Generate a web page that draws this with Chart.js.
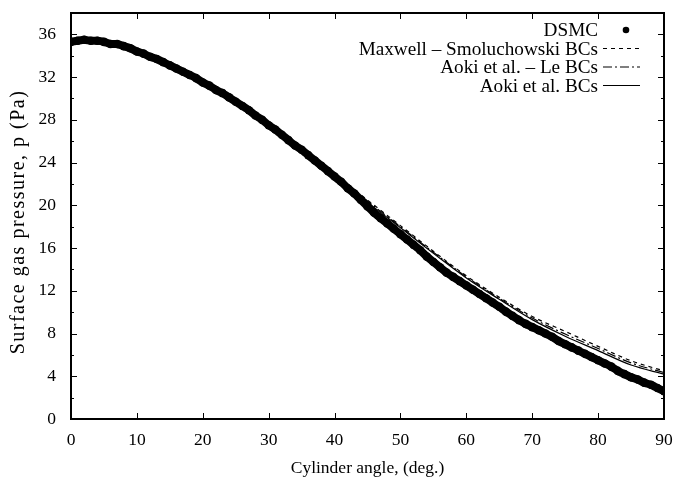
<!DOCTYPE html>
<html>
<head>
<meta charset="utf-8">
<script src="https://cdn.jsdelivr.net/npm/chart.js@4"></script>
<style>
  html, body { margin: 0; padding: 0; background: #fff; }
  #wrap { width: 676px; height: 479px; }
</style>
</head>
<body>
<div id="wrap"><canvas id="chart" width="676" height="479"></canvas></div>
<script>
// DSMC surface pressure, one value per degree (0..90)
const dsmcAngles = Array.from({ length: 91 }, (_, i) => i);
const dsmcValues = [
  35.3, 35.4, 35.5, 35.4, 35.4, 35.3, 35.1, 35.1, 34.9, 34.7,
  34.4, 34.2, 33.9, 33.7, 33.4, 33.1, 32.8, 32.5, 32.2, 31.9,
  31.5, 31.2, 30.8, 30.5, 30.1, 29.7, 29.3, 28.9, 28.4, 28.0,
  27.5, 27.1, 26.6, 26.1, 25.6, 25.2, 24.7, 24.2, 23.7, 23.2,
  22.7, 22.2, 21.6, 21.1, 20.5, 19.9, 19.3, 18.8, 18.3, 17.8,
  17.3, 16.8, 16.3, 15.8, 15.2, 14.7, 14.2, 13.7, 13.3, 12.9,
  12.5, 12.1, 11.7, 11.3, 10.9, 10.5, 10.05, 9.65, 9.25, 8.9,
  8.6, 8.3, 8.0, 7.7, 7.3, 7.0, 6.7, 6.4, 6.1, 5.8,
  5.5, 5.2, 4.9, 4.5, 4.2, 3.9, 3.7, 3.4, 3.2, 2.9,
  2.6
];

// model curves, every 5 degrees
const modelAngles = [0, 5, 10, 15, 20, 25, 30, 35, 40, 45, 50, 55, 60, 65, 70, 75, 80, 85, 90];
const maxwellValues = [35.4, 35.2, 34.6, 33.3, 31.7, 29.9, 27.7, 25.4, 23.0, 20.5, 18.1, 15.7, 13.4, 11.4, 9.6, 8.2, 6.8, 5.45, 4.5];
const aokiLeValues  = [35.4, 35.2, 34.6, 33.3, 31.7, 29.9, 27.7, 25.4, 22.95, 20.4, 18.0, 15.6, 13.3, 11.3, 9.45, 7.95, 6.6, 5.25, 4.35];
const aokiValues    = [35.4, 35.2, 34.6, 33.3, 31.7, 29.9, 27.7, 25.4, 22.9, 20.3, 17.9, 15.5, 13.2, 11.2, 9.3, 7.75, 6.4, 5.05, 4.2];

const xTicks = [0, 10, 20, 30, 40, 50, 60, 70, 80, 90];
const yTicks = [0, 4, 8, 12, 16, 20, 24, 28, 32, 36];

const seriesNames = ['DSMC', 'Maxwell \u2013 Smoluchowski BCs', 'Aoki et al. \u2013 Le BCs', 'Aoki et al. BCs'];
const yTitle = 'Surface gas pressure, p (Pa)';

const FONT = '"Liberation Serif", "DejaVu Serif", serif';

function pairs(xs, ys) {
  return xs.map((x, i) => ({ x: x, y: ys[i] }));
}

// gnuplot-like frame with inward ticks, y title and the legend at top right
const framePlugin = {
  id: 'frame',
  afterDatasetsDraw(chart) {
    const ctx = chart.ctx;
    const a = chart.chartArea;
    const xs = chart.scales.x;
    const ys = chart.scales.y;
    ctx.save();
    ctx.strokeStyle = '#000';
    ctx.lineWidth = 1;
    ctx.beginPath();
    xTicks.forEach(v => {
      const px = Math.round(xs.getPixelForValue(v)) + 0.5;
      ctx.moveTo(px, a.bottom); ctx.lineTo(px, a.bottom - 6);
      ctx.moveTo(px, a.top); ctx.lineTo(px, a.top + 6);
    });
    for (let v = 0; v <= 38; v += 2) {
      const len = v % 4 === 0 ? 6 : 3;
      const py = Math.round(ys.getPixelForValue(v)) + 0.5;
      ctx.moveTo(a.left, py); ctx.lineTo(a.left + len, py);
      ctx.moveTo(a.right, py); ctx.lineTo(a.right - len, py);
    }
    ctx.stroke();
    ctx.lineWidth = 2;
    ctx.strokeRect(a.left, a.top, a.right - a.left, a.bottom - a.top);

    // y axis title (drawn here so it can be spaced like the original)
    ctx.save();
    ctx.translate(19, 222);
    ctx.rotate(-Math.PI / 2);
    ctx.font = '20px ' + FONT;
    ctx.letterSpacing = '1.5px';
    ctx.fillStyle = '#000';
    ctx.textAlign = 'center';
    ctx.textBaseline = 'middle';
    ctx.fillText(yTitle, 0, 0);
    ctx.restore();

    // legend
    ctx.font = '19.2px ' + FONT;
    ctx.fillStyle = '#000';
    ctx.textAlign = 'right';
    ctx.textBaseline = 'middle';
    const rows = [30, 48.5, 67, 85.5];
    const textRight = 598;
    const s0 = 603, s1 = 640;
    chart.data.datasets.forEach((ds, i) => {
      const y = rows[i];
      ctx.fillText(seriesNames[i], textRight, y + 1);
      ctx.beginPath();
      if (i === 0) {
        ctx.arc(626, y, 3.3, 0, Math.PI * 2);
        ctx.fill();
      } else {
        ctx.lineWidth = 1.2;
        ctx.setLineDash(ds.borderDash || []);
        ctx.moveTo(s0, y); ctx.lineTo(s1, y);
        ctx.stroke();
        ctx.setLineDash([]);
      }
    });
    ctx.restore();
  }
};

new Chart(document.getElementById('chart'), {
  type: 'scatter',
  data: {
    datasets: [
      {
        label: seriesNames[0],
        data: pairs(dsmcAngles, dsmcValues),
        showLine: true,
        borderColor: '#000',
        backgroundColor: '#000',
        borderWidth: 8,
        pointRadius: 4.3,
        pointBorderWidth: 0,
        tension: 0.2
      },
      {
        label: seriesNames[1],
        data: pairs(modelAngles, maxwellValues),
        showLine: true,
        borderColor: '#000',
        borderWidth: 1.2,
        borderDash: [4, 4],
        pointRadius: 0,
        cubicInterpolationMode: 'monotone'
      },
      {
        label: seriesNames[2],
        data: pairs(modelAngles, aokiLeValues),
        showLine: true,
        borderColor: '#000',
        borderWidth: 1.2,
        borderDash: [9, 3, 2, 3],
        pointRadius: 0,
        cubicInterpolationMode: 'monotone'
      },
      {
        label: seriesNames[3],
        data: pairs(modelAngles, aokiValues),
        showLine: true,
        borderColor: '#000',
        borderWidth: 1.2,
        pointRadius: 0,
        cubicInterpolationMode: 'monotone'
      }
    ]
  },
  options: {
    responsive: false,
    animation: false,
    layout: { padding: { top: 13, right: 12, left: 0, bottom: 0 } },
    plugins: {
      legend: { display: false },
      tooltip: { enabled: false }
    },
    scales: {
      x: {
        type: 'linear',
        min: 0,
        max: 90,
        afterBuildTicks: s => { s.ticks = xTicks.map(v => ({ value: v })); },
        afterFit: s => { s.height = 60; s.paddingLeft = 0; s.paddingRight = 0; },
        grid: { display: false, drawTicks: false },
        border: { display: false },
        ticks: { color: '#000', padding: 11, font: { family: FONT, size: 17.5 } },
        title: {
          display: true,
          text: 'Cylinder angle, (deg.)',
          color: '#000',
          font: { family: FONT, size: 17.5 },
          padding: { top: 7, bottom: 0 }
        }
      },
      y: {
        type: 'linear',
        min: 0,
        max: 38,
        afterBuildTicks: s => { s.ticks = yTicks.map(v => ({ value: v })); },
        afterFit: s => { s.width = 71; s.paddingTop = 0; s.paddingBottom = 0; },
        grid: { display: false, drawTicks: false },
        border: { display: false },
        ticks: { color: '#000', padding: 15, font: { family: FONT, size: 17.5 } },
        title: { display: false }
      }
    }
  },
  plugins: [framePlugin]
});
</script>
</body>
</html>
